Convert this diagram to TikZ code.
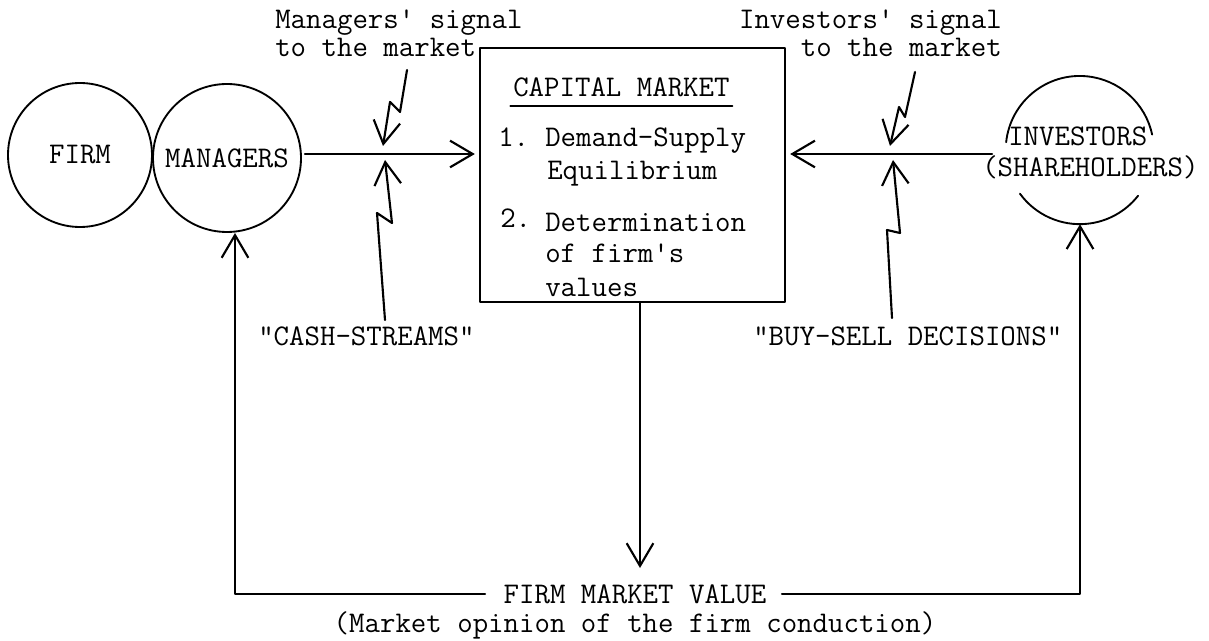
\documentclass[tikz,border=0pt]{standalone}
\usepackage{fontspec}
\usetikzlibrary{arrows.meta}

\tikzset{
  tw/.style={font=\ttfamily\fontsize{22.5}{21}\selectfont, inner sep=0pt},
  ln/.style={line width=1.6pt},
  arr/.style={ln, -{Straight Barb[length=17pt,width=20pt,line width=1.6pt]}},
  ring/.style={circle, draw, line width=1.4pt, inner sep=0pt},
}

\begin{document}
\begin{tikzpicture}[x=0.75pt, y=-0.75pt, line cap=round, line join=round]
\useasboundingbox (0,0) rectangle (1209,641);

% agents
\node[ring, tw, minimum size=108pt] (firm) at (80,155) {FIRM};
\node[ring, tw, minimum size=111pt] (mgr) at (227,158) {MANAGERS};
\node[circle, minimum size=111pt, inner sep=0pt] (inv) at (1080,150) {};
\draw[line width=1.4pt] (inv.174) arc[start angle=174, end angle=12, radius=55.5pt];
\draw[line width=1.4pt] (inv.216) arc[start angle=216, end angle=322, radius=55.5pt];
\node[tw, font=\ttfamily\fontsize{22.5}{22.8}\selectfont, align=left, anchor=north west]
  (invtxt) at (982,127) {\hspace*{19.5pt}INVESTORS\\(SHAREHOLDERS)};

% capital market box
\node[draw, line width=1.8pt, minimum width=228.75pt, minimum height=190.5pt] (cm) at (632.5,175) {};
\node[tw, anchor=base west] (cmt) at (513,97) {CAPITAL MARKET};
\draw[line width=1.3pt] ([xshift=-2pt,yshift=-6.5pt]cmt.base west) -- ([xshift=2pt,yshift=-6.5pt]cmt.base east);
\node[tw, anchor=base west] (n1) at (498,147) {1.};
\node[tw, anchor=base west] (i1a) at (545,147) {Demand-Supply};
\node[tw, anchor=base west] (i1b) at (547,180) {Equilibrium};
\node[tw, anchor=base west] (n2) at (500,228) {2.};
\node[tw, anchor=base west] (i2a) at (545,232) {Determination};
\node[tw, anchor=base west] (i2b) at (545,263) {of firm's};
\node[tw, anchor=base west] (i2c) at (545,297) {values};

% signal labels
\node[tw, anchor=base west] (ms1) at (275,29) {Managers' signal};
\node[tw, anchor=base west] (ms2) at (275,57) {to the market};
\node[tw, anchor=base east] (is1) at (1002,29) {Investors' signal};
\node[tw, anchor=base east] (is2) at (1002,57) {to the market};
\node[tw, anchor=base west] (cash) at (258,345) {"CASH-STREAMS"};
\node[tw, anchor=base west] (buy) at (753,345) {"BUY-SELL DECISIONS"};

% market value
\node[tw, anchor=base] (fmv) at (635,603) {FIRM MARKET VALUE};
\node[tw, anchor=base] (fmv2) at (635,632) {(Market opinion of the firm conduction)};

% flows into the market
\coordinate (mOut) at (305,154);
\coordinate (iOut) at (992,154);
\draw[arr, shorten >=3pt] (mOut) -- (cm.west |- mOut);
\draw[arr, shorten >=3pt] (iOut) -- (cm.east |- iOut);

% market value back to managers and investors
\coordinate (vTop) at (640,302);
\coordinate (vTip) at (640,568);
\draw[arr] (vTop) -- (vTip);
\coordinate (bl) at (485,594);
\coordinate (br) at (782,594);
\coordinate (cL) at (235,233);
\draw[arr] (bl) -| (cL);
\draw[arr] (br) -| (inv.south);

% lightning signals
\draw[arr] (407,70) -- (400,112) -- (390,102) -- (383,146);
\draw[arr] (385,320) -- (377,213) -- (392,223) -- (385,160);
\draw[arr] (915,72) -- (905,117) -- (899,107) -- (890,146);
\draw[arr] (892,318) -- (887,230) -- (900,233) -- (893,160);
\end{tikzpicture}
\end{document}
